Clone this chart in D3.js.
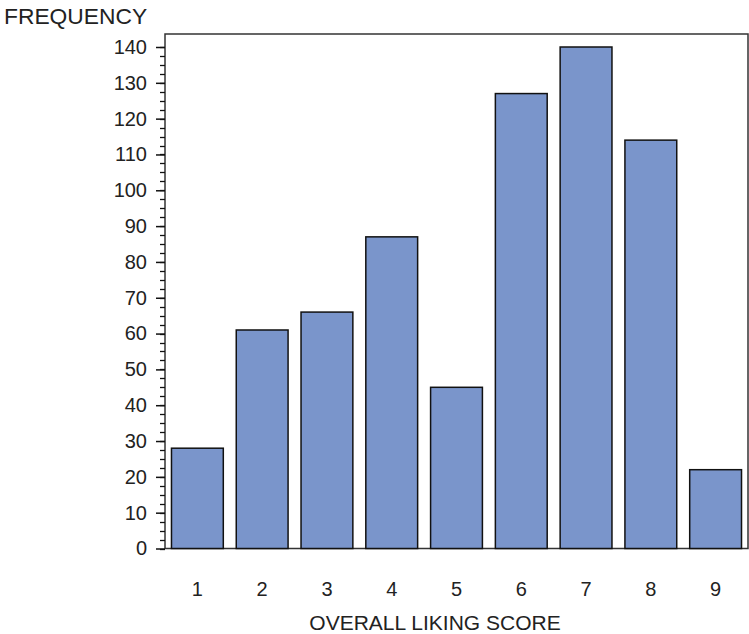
<!DOCTYPE html>
<html><head><meta charset="utf-8">
<script src="https://cdn.jsdelivr.net/npm/d3@7"></script>
<style>body{margin:0;background:#fff}svg{display:block}text{font-family:Arial,"Liberation Sans",sans-serif;fill:#222}</style>
</head><body><svg id="c" width="749" height="634"></svg>
<script>
const categories = ["1","2","3","4","5","6","7","8","9"];
const frequencies = [28, 61, 66, 87, 45, 127, 140, 114, 22];
const yTicks = [0,10,20,30,40,50,60,70,80,90,100,110,120,130,140];
const yMinorTicks = d3.range(0, 141, 2.5);
const yTitle = "FREQUENCY";
const xTitle = "OVERALL LIKING SCORE";

const svg = d3.select("#c");
const L = 165, R = 748, T = 34, B = 548.5;
const x = d3.scaleBand().domain(categories).range([L, R]).paddingInner(0.2).paddingOuter(0.1);
const y = d3.scaleLinear().domain([0, 140]).range([B, 47]);

// frame
svg.append("rect").attr("x", L).attr("y", T).attr("width", R - L).attr("height", B - T)
  .attr("fill", "none").attr("stroke", "#333").attr("stroke-width", 1.5);

// bars
svg.selectAll("rect.bar").data(frequencies).enter().append("rect")
  .attr("class", "bar")
  .attr("x", (d, i) => x(categories[i]))
  .attr("width", x.bandwidth())
  .attr("y", d => y(d))
  .attr("height", d => B - y(d))
  .attr("fill", "#7a95cb").attr("stroke", "#111").attr("stroke-width", 1.5);

// y axis minor ticks
svg.append("g").selectAll("line").data(yMinorTicks).enter().append("line")
  .attr("x1", 160).attr("x2", L).attr("y1", d => Math.round(y(d)) + 0.5).attr("y2", d => Math.round(y(d)) + 0.5)
  .attr("stroke", "#111").attr("stroke-width", 1.3);
// y axis major ticks via d3 axis
const yAxis = svg.append("g").attr("transform", `translate(${L},0)`)
  .call(d3.axisLeft(y).tickValues(yTicks).tickSize(9).tickPadding(9).tickFormat(d3.format("d")));
yAxis.select(".domain").remove();
yAxis.selectAll(".tick line").attr("stroke", "#111").attr("stroke-width", 1.5);
yAxis.selectAll(".tick text").attr("font-size", 20).attr("font-family", "Arial, 'Liberation Sans', sans-serif").attr("fill", "#222");

// x axis labels
const xAxis = svg.append("g").attr("transform", `translate(0,${B})`)
  .call(d3.axisBottom(x).tickSize(0).tickPadding(33));
xAxis.select(".domain").remove();
xAxis.selectAll(".tick text").attr("font-size", 20).attr("font-family", "Arial, 'Liberation Sans', sans-serif").attr("fill", "#222");

svg.append("text").attr("x", 4).attr("y", 24).attr("font-size", 22.8).text(yTitle);
svg.append("text").attr("x", 435).attr("y", 630).attr("text-anchor", "middle").attr("font-size", 21).text(xTitle);
</script></body></html>
